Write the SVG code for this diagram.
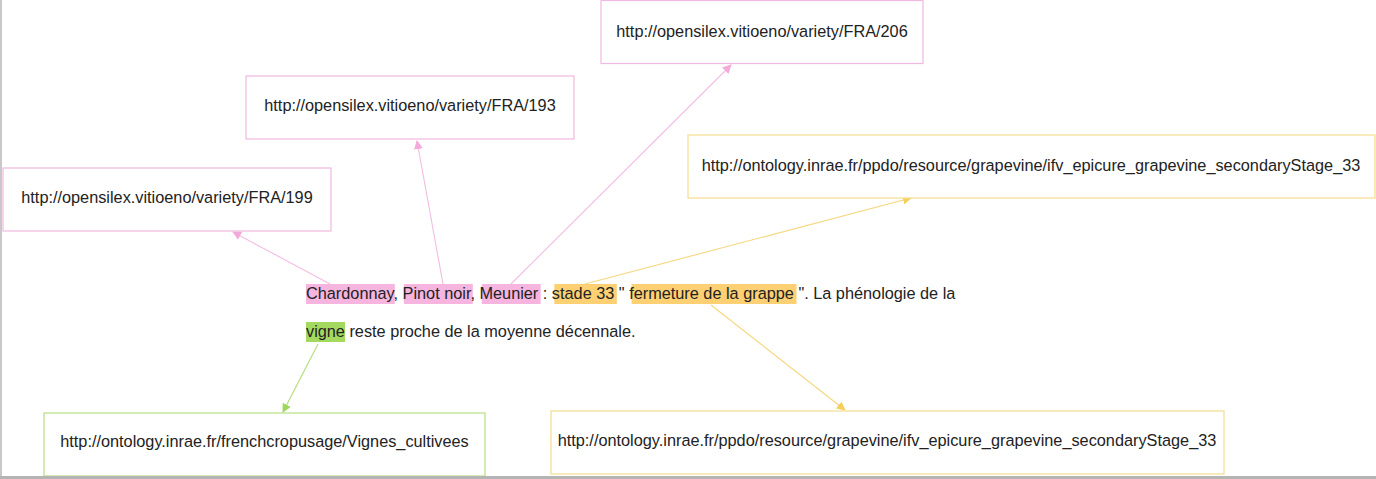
<svg xmlns="http://www.w3.org/2000/svg" width="1376" height="479" viewBox="0 0 1376 479">
<defs>
<style>
text{font-family:"Liberation Sans",Arial,sans-serif;font-size:16.3px;fill:#222}
.box{fill:#fff;stroke-width:1.2}
.pk{stroke:#f0b9df}
.yl{stroke:#f3dc8c}
.gr{stroke:#b7de83}
.ln{fill:none;stroke-width:1.1}
</style>
<marker id="mp" viewBox="0 0 10 10" refX="9" refY="5" markerWidth="9" markerHeight="9" markerUnits="userSpaceOnUse" orient="auto"><path d="M0,0L10,5L0,10z" fill="#f3a9da"/></marker>
<marker id="my" viewBox="0 0 10 10" refX="9" refY="5" markerWidth="9" markerHeight="9" markerUnits="userSpaceOnUse" orient="auto"><path d="M0,0L10,5L0,10z" fill="#f5cf5e"/></marker>
<marker id="mg" viewBox="0 0 10 10" refX="9" refY="5" markerWidth="9" markerHeight="9" markerUnits="userSpaceOnUse" orient="auto"><path d="M0,0L10,5L0,10z" fill="#9fd75a"/></marker>
</defs>
<rect width="1376" height="479" fill="#fff"/>
<g id="connectors">
<line class="ln" x1="330" y1="284" x2="233" y2="232" stroke="#f3bde2" marker-end="url(#mp)"/>
<line class="ln" x1="443" y1="284" x2="417" y2="141" stroke="#f3bde2" marker-end="url(#mp)"/>
<line class="ln" x1="511" y1="284" x2="731" y2="65" stroke="#f3bde2" marker-end="url(#mp)"/>
<line class="ln" x1="585" y1="284" x2="911" y2="198" stroke="#f6d77e" marker-end="url(#my)"/>
<line class="ln" x1="711" y1="305" x2="845" y2="410" stroke="#f6d77e" marker-end="url(#my)"/>
<line class="ln" x1="318" y1="344" x2="283" y2="412" stroke="#b2dc7c" marker-end="url(#mg)"/>
</g>
<g id="sentence">
<rect x="306" y="284" width="88.8" height="20" fill="#f5b5df"/>
<rect x="403.9" y="284" width="68.9" height="20" fill="#f5b5df"/>
<rect x="481.8" y="284" width="58.9" height="20" fill="#f5b5df"/>
<rect x="554.3" y="284" width="62.5" height="20" fill="#fdd073"/>
<rect x="631.6" y="284" width="164.9" height="20" fill="#fdd073"/>
<rect x="306" y="322" width="39" height="20" fill="#a4d960"/>
<text x="306" y="299">Chardonnay, Pinot noir, Meunier : stade 33 " fermeture de la grappe ". La phénologie de la</text>
<text x="306" y="337">vigne reste proche de la moyenne décennale.</text>
</g>
<g id="n199"><rect class="box pk" x="3" y="168" width="328" height="63"/><text x="167" y="203" text-anchor="middle">http://opensilex.vitioeno/variety/FRA/199</text></g>
<g id="n193"><rect class="box pk" x="246" y="76" width="328" height="63"/><text x="410" y="111" text-anchor="middle">http://opensilex.vitioeno/variety/FRA/193</text></g>
<g id="n206"><rect class="box pk" x="601" y="0.5" width="322" height="63"/><text x="762" y="37" text-anchor="middle">http://opensilex.vitioeno/variety/FRA/206</text></g>
<g id="nstage_top"><rect class="box yl" x="688" y="135" width="687" height="63"/><text x="1031" y="171" text-anchor="middle">http://ontology.inrae.fr/ppdo/resource/grapevine/ifv_epicure_grapevine_secondaryStage_33</text></g>
<g id="nstage_bottom"><rect class="box yl" x="551" y="411" width="673" height="63"/><text x="887" y="446" text-anchor="middle">http://ontology.inrae.fr/ppdo/resource/grapevine/ifv_epicure_grapevine_secondaryStage_33</text></g>
<g id="nvignes"><rect class="box gr" x="44" y="413" width="441" height="63"/><text x="264.5" y="447" text-anchor="middle">http://ontology.inrae.fr/frenchcropusage/Vignes_cultivees</text></g>
<rect x="0" y="0" width="2" height="479" fill="#c8c8c8"/>
<rect x="0" y="476" width="1376" height="3" fill="#b4b4b4"/>
</svg>
